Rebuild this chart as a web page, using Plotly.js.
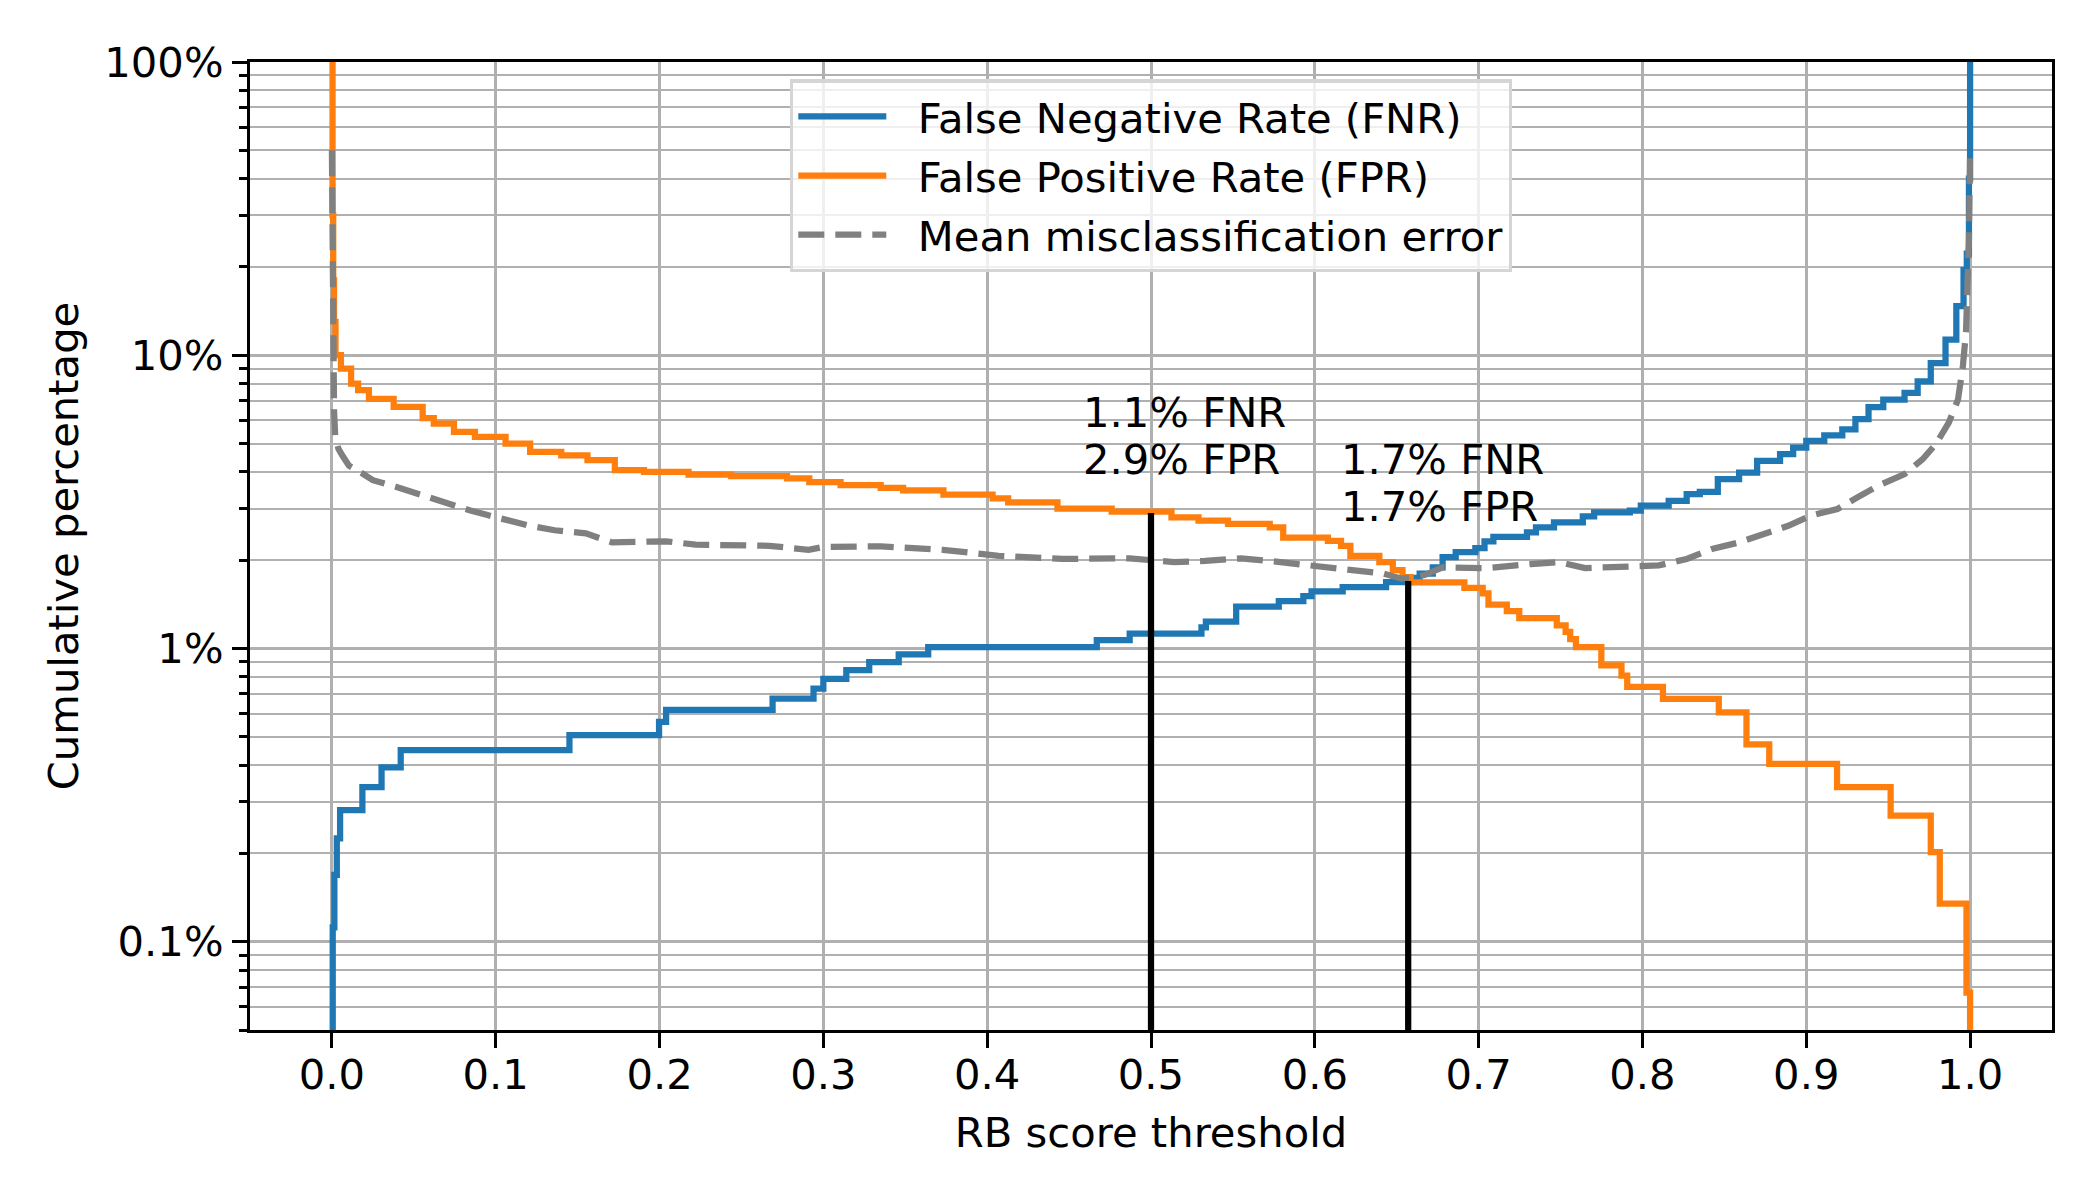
<!DOCTYPE html>
<html>
<head>
<meta charset="utf-8">
<script src="https://cdn.plot.ly/plotly-3.0.1.min.js"></script>
<style>
  html, body { margin: 0; padding: 0; background: #fff; }
</style>
</head>
<body>
<div id="rate-chart" style="width:2100px;height:1200px"></div>
<script>
/* RB score threshold vs. cumulative error rates (percent, log scale).
   Each x is the threshold where the rate steps to the y value next to it. */

const FNR_X = [0, 0.0005, 0.0015, 0.003, 0.005, 0.0186, 0.0303, 0.042, 0.145, 0.1997,
  0.204, 0.269, 0.294, 0.300, 0.314, 0.328, 0.346, 0.364, 0.4669, 0.487,
  0.5308, 0.5335, 0.552, 0.578, 0.593, 0.598, 0.617, 0.6435, 0.6585, 0.664,
  0.672, 0.678, 0.686, 0.698, 0.7036, 0.709, 0.7295, 0.735, 0.746, 0.7636,
  0.7705, 0.7923, 0.799, 0.816, 0.827, 0.835, 0.846, 0.859, 0.87, 0.884,
  0.892, 0.9, 0.911, 0.922, 0.93, 0.938, 0.947, 0.96, 0.968, 0.976,
  0.985, 0.9916, 0.996, 0.998, 0.9993, 1.0];
const FNR_Y = [0.02, 0.112, 0.169, 0.225, 0.281, 0.337, 0.393, 0.45, 0.506, 0.562,
  0.618, 0.674, 0.73, 0.787, 0.843, 0.899, 0.955, 1.011, 1.067, 1.124,
  1.18, 1.236, 1.39, 1.45, 1.51, 1.565, 1.62, 1.685, 1.74, 1.8,
  1.89, 2.05, 2.13, 2.2, 2.32, 2.4, 2.49, 2.59, 2.69, 2.82,
  2.91, 2.95, 3.07, 3.19, 3.36, 3.42, 3.78, 3.98, 4.36, 4.6,
  4.84, 5.1, 5.33, 5.59, 6.05, 6.66, 7.06, 7.44, 8.15, 9.4,
  11.3, 14.7, 19.5, 22.2, 40, 100];

const FPR_X = [0, 0.0004, 0.0008, 0.0013, 0.0022, 0.0055, 0.0117, 0.016, 0.0226, 0.0377,
  0.0554, 0.0622, 0.0745, 0.0873, 0.106, 0.121, 0.14, 0.156, 0.1727, 0.1905,
  0.2177, 0.2437, 0.2778, 0.2914, 0.3105, 0.335, 0.3487, 0.3733, 0.4033, 0.4128,
  0.4429, 0.476, 0.5125, 0.529, 0.547, 0.5725, 0.5807, 0.608, 0.616, 0.6217,
  0.6394, 0.6476, 0.6535, 0.6585, 0.6913, 0.7025, 0.706, 0.7172, 0.7248, 0.7477,
  0.7531, 0.7559, 0.7594, 0.7749, 0.7872, 0.7907, 0.8125, 0.8466, 0.8635, 0.8774,
  0.9188, 0.9515, 0.976, 0.9815, 0.9978, 1.0];
const FPR_Y = [100, 30, 18, 13, 10, 9, 8, 7.6, 7.1, 6.67,
  6.1, 5.85, 5.48, 5.27, 5.0, 4.68, 4.56, 4.39, 4.06, 4.0,
  3.92, 3.87, 3.8, 3.69, 3.61, 3.53, 3.46, 3.35, 3.25, 3.15,
  3.0, 2.93, 2.8, 2.73, 2.66, 2.59, 2.39, 2.33, 2.24, 2.07,
  1.97, 1.85, 1.75, 1.68, 1.61, 1.54, 1.41, 1.34, 1.27, 1.2,
  1.14, 1.077, 1.01, 0.875, 0.808, 0.74, 0.673, 0.606, 0.471, 0.404,
  0.337, 0.269, 0.202, 0.135, 0.067, 0.02];

const MEAN_X = [0, 0.0004, 0.0008, 0.0013, 0.002, 0.004, 0.0063, 0.0104, 0.0186, 0.025,
  0.039, 0.054, 0.07, 0.084, 0.095, 0.1018, 0.1195, 0.136, 0.155, 0.171,
  0.204, 0.222, 0.267, 0.291, 0.3, 0.335, 0.373, 0.407, 0.446, 0.487,
  0.514, 0.533, 0.555, 0.579, 0.59, 0.623, 0.642, 0.653, 0.667, 0.678,
  0.705, 0.732, 0.749, 0.765, 0.81, 0.827, 0.843, 0.859, 0.876, 0.889,
  0.903, 0.919, 0.933, 0.944, 0.96, 0.971, 0.979, 0.987, 0.9926, 0.9956,
  0.9975, 0.9985, 0.9993, 1.0];
const MEAN_Y = [50, 15, 9, 6.5, 5.3, 4.8, 4.56, 4.2, 3.95, 3.75,
  3.56, 3.34, 3.12, 2.96, 2.85, 2.78, 2.63, 2.53, 2.47, 2.3,
  2.32, 2.26, 2.24, 2.17, 2.22, 2.23, 2.17, 2.07, 2.02, 2.03,
  1.97, 1.99, 2.03, 1.97, 1.94, 1.87, 1.8, 1.73, 1.78, 1.89,
  1.88, 1.94, 1.97, 1.88, 1.92, 2.02, 2.19, 2.3, 2.46, 2.62,
  2.84, 2.99, 3.32, 3.59, 3.93, 4.42, 4.97, 5.89, 7.06, 9.18,
  12, 16, 25, 50];

// marked operating points
const OP_THRESHOLDS = [0.5, 0.657];
const OP_FNR = [1.1, 1.7];
const OP_FPR = [2.9, 1.7];

const Y_TICKS = [0.1, 1, 10, 100];
const Y_TICK_LABELS = ["0.1%", "1%", "10%", "100%"];
const Y_MIN = 0.05;
const Y_MAX = 100;

const FONT = { family: "DejaVu Sans, sans-serif", size: 41.7, color: "#000" };
const GRID = "#b0b0b0";
const LINE_W = 6.25;
const PAD = "\u00A0\u00A0"; // gap between legend line and label

document.addEventListener("DOMContentLoaded", renderRateChart);

function renderRateChart() {
  const rateTrace = (x, y, name, color, group) => ({
    type: "scatter",
    mode: "lines",
    x,
    y,
    name: PAD + name,
    legendgroup: group,
    line: { color, width: LINE_W, shape: "hv" },
  });

  const traces = [
    rateTrace(FNR_X, FNR_Y, "False Negative Rate (FNR)", "#1f77b4", "fnr"),
    rateTrace(FPR_X, FPR_Y, "False Positive Rate (FPR)", "#ff7f0e", "fpr"),
    {
      type: "scatter",
      mode: "lines",
      x: MEAN_X,
      y: MEAN_Y,
      name: PAD + "Mean misclassification error",
      legendgroup: "mean",
      line: { color: "#808080", width: LINE_W, dash: "26px,11px" },
    },
  ];

  const annotations = [];
  OP_THRESHOLDS.forEach((t, i) => {
    traces.push({
      type: "scatter",
      mode: "lines",
      x: [t, t],
      y: [Y_MIN, OP_FPR[i]],
      showlegend: false,
      hoverinfo: "skip",
      line: { color: "#000", width: LINE_W },
    });

    const base = {
      x: t - 0.04,
      y: Math.log10(OP_FPR[i] + 1),
      xanchor: "left",
      yanchor: "bottom",
      xshift: -4,
      showarrow: false,
      font: FONT,
    };
    annotations.push({ ...base, text: OP_FNR[i].toFixed(1) + "% FNR", yshift: 36 });
    annotations.push({ ...base, text: OP_FPR[i].toFixed(1) + "% FPR", yshift: -11 });
  });

  const axisBase = {
    showline: true,
    linecolor: "#000",
    linewidth: 3.3,
    mirror: true,
    ticks: "outside",
    ticklen: 15,
    tickwidth: 3.3,
    tickcolor: "#000",
    showgrid: true,
    gridcolor: GRID,
    gridwidth: 3,
    zeroline: false,
    tickfont: FONT,
  };

  const layout = {
    width: 2100,
    height: 1200,
    margin: { t: 62, r: 48, b: 170, l: 250 },
    paper_bgcolor: "#fff",
    plot_bgcolor: "#fff",
    font: FONT,
    showlegend: true,
    legend: {
      x: 0.5,
      xanchor: "center",
      y: 0.982,
      yanchor: "top",
      bgcolor: "rgba(255,255,255,0.8)",
      bordercolor: "#d5d5d5",
      borderwidth: 3.3,
      font: FONT,
      traceorder: "grouped",
      tracegroupgap: 2,
      itemwidth: 88,
    },
    xaxis: {
      ...axisBase,
      range: [-0.05, 1.05],
      tick0: 0,
      dtick: 0.1,
      tickformat: ".1f",
      ticklabelstandoff: -9,
      title: { text: "RB score threshold", font: FONT, standoff: 20 },
    },
    yaxis: {
      ...axisBase,
      type: "log",
      range: [Math.log10(Y_MIN), Math.log10(Y_MAX)],
      tickmode: "array",
      tickvals: Y_TICKS,
      ticktext: Y_TICK_LABELS,
      minor: {
        dtick: "D1",
        ticks: "outside",
        ticklen: 8,
        tickwidth: 2.5,
        tickcolor: "#000",
        showgrid: true,
        gridcolor: GRID,
        gridwidth: 2.2,
      },
      title: { text: "Cumulative percentage", font: FONT, standoff: 13 },
    },
    annotations,
  };

  Plotly.newPlot("rate-chart", traces, layout, { displayModeBar: false, responsive: false });
}
</script>
</body>
</html>
